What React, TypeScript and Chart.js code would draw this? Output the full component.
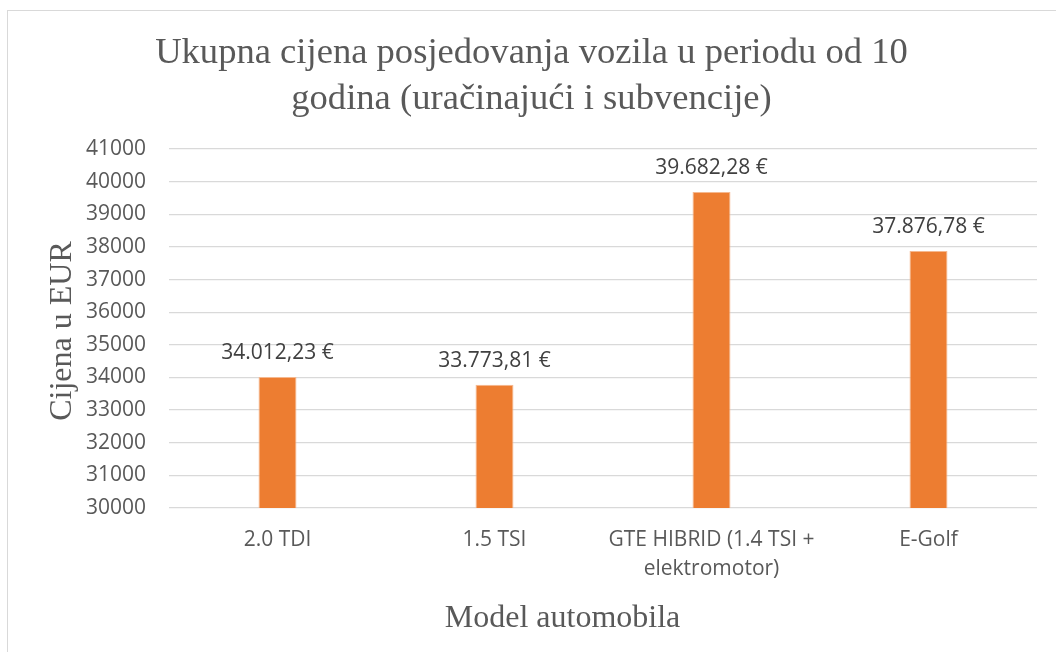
import React, { useEffect, useRef } from "react";
import { Chart, registerables } from "chart.js";

Chart.register(...registerables);

const categories: (string | string[])[] = [
  "2.0 TDI",
  "1.5 TSI",
  ["GTE HIBRID (1.4 TSI +", "elektromotor)"],
  "E-Golf",
];
const totalCost: number[] = [34012.23, 33773.81, 39682.28, 37876.78];
const yMin = 30000;
const yMax = 41000;
const yStep = 1000;
const titleLines: string[] = [
  "Ukupna cijena posjedovanja vozila u periodu od 10",
  "godina (uračinajući i subvencije)",
];
const yTitle = "Cijena u EUR";
const xTitle = "Model automobila";

function formatEuro(v: number): string {
  const [intPart, dec] = v.toFixed(2).split(".");
  const withDots = intPart.replace(/\B(?=(\d{3})+(?!\d))/g, ".");
  return `${withDots},${dec} €`;
}

const SANS = "'Open Sans', 'Noto Sans', sans-serif";
const SERIF = "'Liberation Serif', 'DejaVu Serif', serif";
const TEXT = "#595959";

const dataLabelPlugin = {
  id: "dataLabels",
  afterDatasetsDraw(chart: any) {
    const ctx = chart.ctx;
    const meta = chart.getDatasetMeta(0);
    ctx.save();
    ctx.font = `21px ${SANS}`;
    ctx.fillStyle = "#404040";
    ctx.textAlign = "center";
    ctx.textBaseline = "alphabetic";
    meta.data.forEach((bar: any, i: number) => {
      const v = chart.data.datasets[0].data[i] as number;
      ctx.fillText(formatEuro(v), bar.x, bar.y - 18);
    });
    ctx.restore();
  },
};

const titlesPlugin = {
  id: "titles",
  afterDraw(chart: any) {
    const ctx = chart.ctx;
    ctx.save();
    ctx.fillStyle = TEXT;
    ctx.textAlign = "center";
    ctx.textBaseline = "alphabetic";
    // main title
    ctx.font = `36.6px ${SERIF}`;
    titleLines.forEach((line, i) => {
      ctx.fillText(line, 523.5, 52 + i * 46);
    });
    // x axis title
    ctx.font = `32px ${SERIF}`;
    ctx.fillText(xTitle, 554.5, 616);
    // y axis title
    ctx.translate(63, 320);
    ctx.rotate(-Math.PI / 2);
    ctx.fillText(yTitle, 0, 0);
    ctx.restore();
  },
};

export default function App() {
  const canvasRef = useRef<HTMLCanvasElement | null>(null);

  useEffect(() => {
    if (!canvasRef.current) return;
    const chart = new Chart(canvasRef.current, {
      type: "bar",
      data: {
        labels: categories,
        datasets: [
          {
            data: totalCost,
            backgroundColor: "#ED7D31",
            borderColor: "#f5b88f",
            borderWidth: 1,
            barPercentage: 0.175,
            categoryPercentage: 1,
          },
        ],
      },
      plugins: [dataLabelPlugin, titlesPlugin],
      options: {
        responsive: false,
        animation: false,
        layout: { padding: { left: 0, right: 19, top: 138, bottom: 0 } },
        plugins: {
          legend: { display: false },
          tooltip: { enabled: false },
          title: { display: false },
        },
        scales: {
          x: {
            grid: { display: false },
            border: { display: false },
            ticks: {
              color: TEXT,
              font: { family: SANS, size: 21, lineHeight: 1.38 },
              padding: 10,
              maxRotation: 0,
              autoSkip: false,
            },
            title: { display: false },
            afterFit: (scale: any) => {
              scale.height = 144;
            },
          },
          y: {
            min: yMin,
            max: yMax,
            grid: { color: "#d9d9d9", lineWidth: 1.3, drawTicks: false },
            border: { display: false },
            ticks: {
              stepSize: yStep,
              color: TEXT,
              font: { family: SANS, size: 21 },
              padding: 23,
              callback: (v: any) => String(v),
            },
            title: { display: false },
            afterFit: (scale: any) => {
              scale.width = 161;
            },
          },
        },
      },
    });
    return () => chart.destroy();
  }, []);

  return (
    <div
      style={{
        position: "absolute",
        left: 7,
        top: 10,
        width: 1049,
        height: 642,
        borderLeft: "1px solid #d9d9d9",
        borderTop: "1px solid #d9d9d9",
        boxSizing: "border-box",
        background: "#ffffff",
      }}
    >
      <canvas ref={canvasRef} width={1048} height={641} style={{ display: "block" }} />
    </div>
  );
}
